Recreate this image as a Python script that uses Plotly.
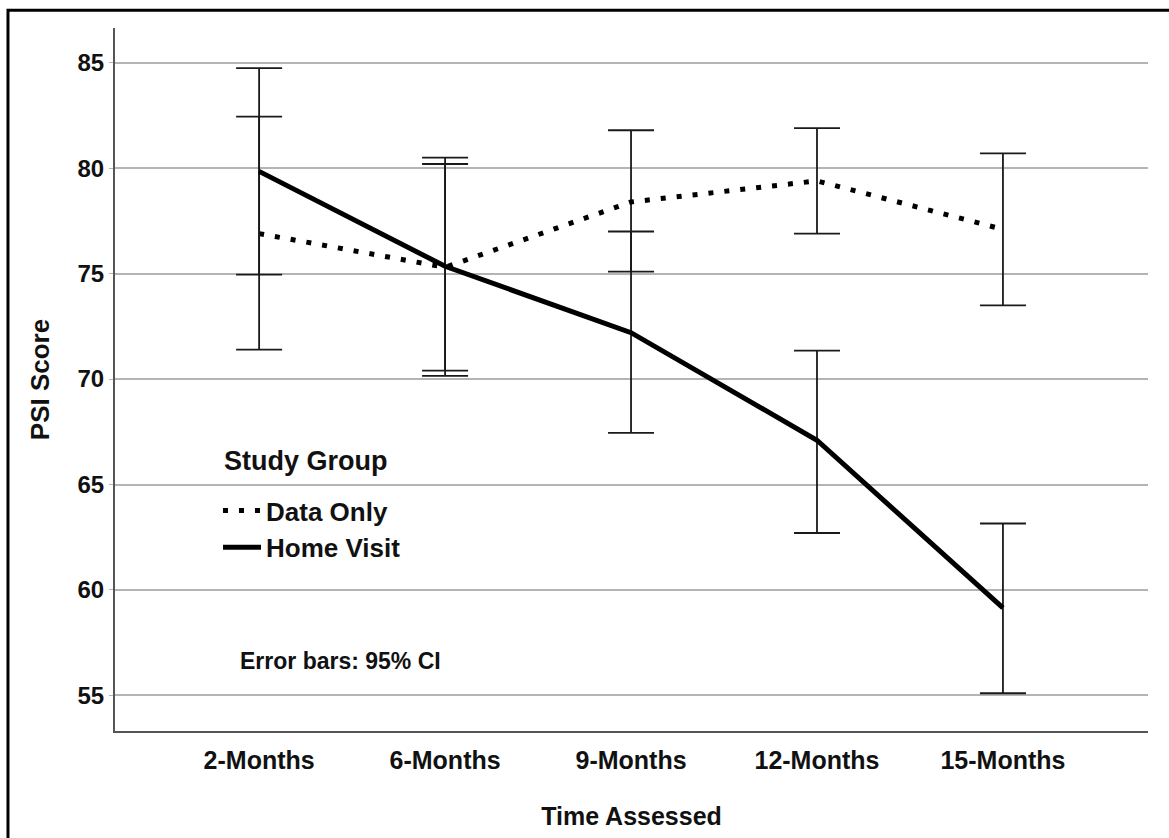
import plotly.graph_objects as go

categories = ["2-Months", "6-Months", "9-Months", "12-Months", "15-Months"]

data_only_mean = [76.9, 75.3, 78.4, 79.4, 77.1]
data_only_low = [71.4, 70.15, 75.1, 76.9, 73.5]
data_only_high = [82.45, 80.5, 81.8, 81.9, 80.7]

home_visit_mean = [79.85, 75.35, 72.2, 67.1, 59.15]
home_visit_low = [74.95, 70.4, 67.45, 62.7, 55.1]
home_visit_high = [84.75, 80.2, 77.0, 71.35, 63.15]

y_ticks = [55, 60, 65, 70, 75, 80, 85]

FONT = "Liberation Sans, Arial, sans-serif"
INK = "#111111"


def err(mean, low, high):
    return dict(
        type="data",
        symmetric=False,
        array=[h - m for m, h in zip(mean, high)],
        arrayminus=[m - l for m, l in zip(mean, low)],
        color="#1a1a1a",
        thickness=1.8,
        width=23,
    )


fig = go.Figure()
fig.add_trace(go.Scatter(
    x=categories, y=data_only_mean, name="Data Only", mode="lines",
    line=dict(color="black", width=5, dash="5px,11px"),
    error_y=err(data_only_mean, data_only_low, data_only_high),
))
fig.add_trace(go.Scatter(
    x=categories, y=home_visit_mean, name="Home Visit", mode="lines",
    line=dict(color="black", width=5),
    error_y=err(home_visit_mean, home_visit_low, home_visit_high),
))

fig.update_layout(
    width=1169, height=838,
    margin=dict(l=115, r=21, t=28, b=101),
    paper_bgcolor="white", plot_bgcolor="white",
    font=dict(family=FONT, color=INK),
    showlegend=True,
    legend=dict(
        x=0.0997, y=0.347, xanchor="left", yanchor="top",
        bgcolor="rgba(0,0,0,0)", borderwidth=0,
        font=dict(family=FONT, size=26, color=INK, weight="bold"),
        itemwidth=38, tracegroupgap=0,
    ),
    xaxis=dict(
        type="category", range=[-0.775, 4.78],
        showgrid=False, zeroline=False,
        showline=True, linecolor="#555555", linewidth=2,
        ticks="", ticklabelstandoff=6,
        tickfont=dict(family=FONT, size=25, color=INK, weight="bold"),
        title=dict(text="Time Assessed", standoff=34,
                   font=dict(family=FONT, size=25, color=INK, weight="bold")),
    ),
    yaxis=dict(
        range=[53.31, 86.65], tickvals=y_ticks,
        showgrid=True, gridcolor="#b4b4b4", gridwidth=1.6,
        zeroline=False, showline=True, linecolor="#555555", linewidth=2,
        ticks="outside", ticklen=4, tickcolor="#b4b4b4",
        tickfont=dict(family=FONT, size=24, color=INK, weight="bold"),
        title=dict(text="PSI Score", standoff=20,
                   font=dict(family=FONT, size=26, color=INK, weight="bold")),
    ),
    annotations=[
        dict(
            text="Study Group", xref="paper", yref="paper",
            x=(222 - 115) / 1033, y=(737 - 465) / 709,
            xanchor="left", yanchor="middle", showarrow=False,
            font=dict(family=FONT, size=27, color=INK, weight="bold"),
        ),
        dict(
            text="Error bars: 95% CI", xref="paper", yref="paper",
            x=0.119, y=0.099, xanchor="left", yanchor="middle", showarrow=False,
            font=dict(family=FONT, size=23, color=INK, weight="bold"),
        ),
    ],
    shapes=[dict(
        type="rect", xref="paper", yref="paper",
        x0=-0.1036, x1=1.2, y0=-0.3, y1=1.0254,
        line=dict(color="black", width=3), fillcolor="rgba(0,0,0,0)",
        layer="above",
    )],
)

fig.write_html(
    "out.html",
    config={"displayModeBar": False},
    post_script="document.body.style.margin='0px';document.body.style.padding='0px';",
)
